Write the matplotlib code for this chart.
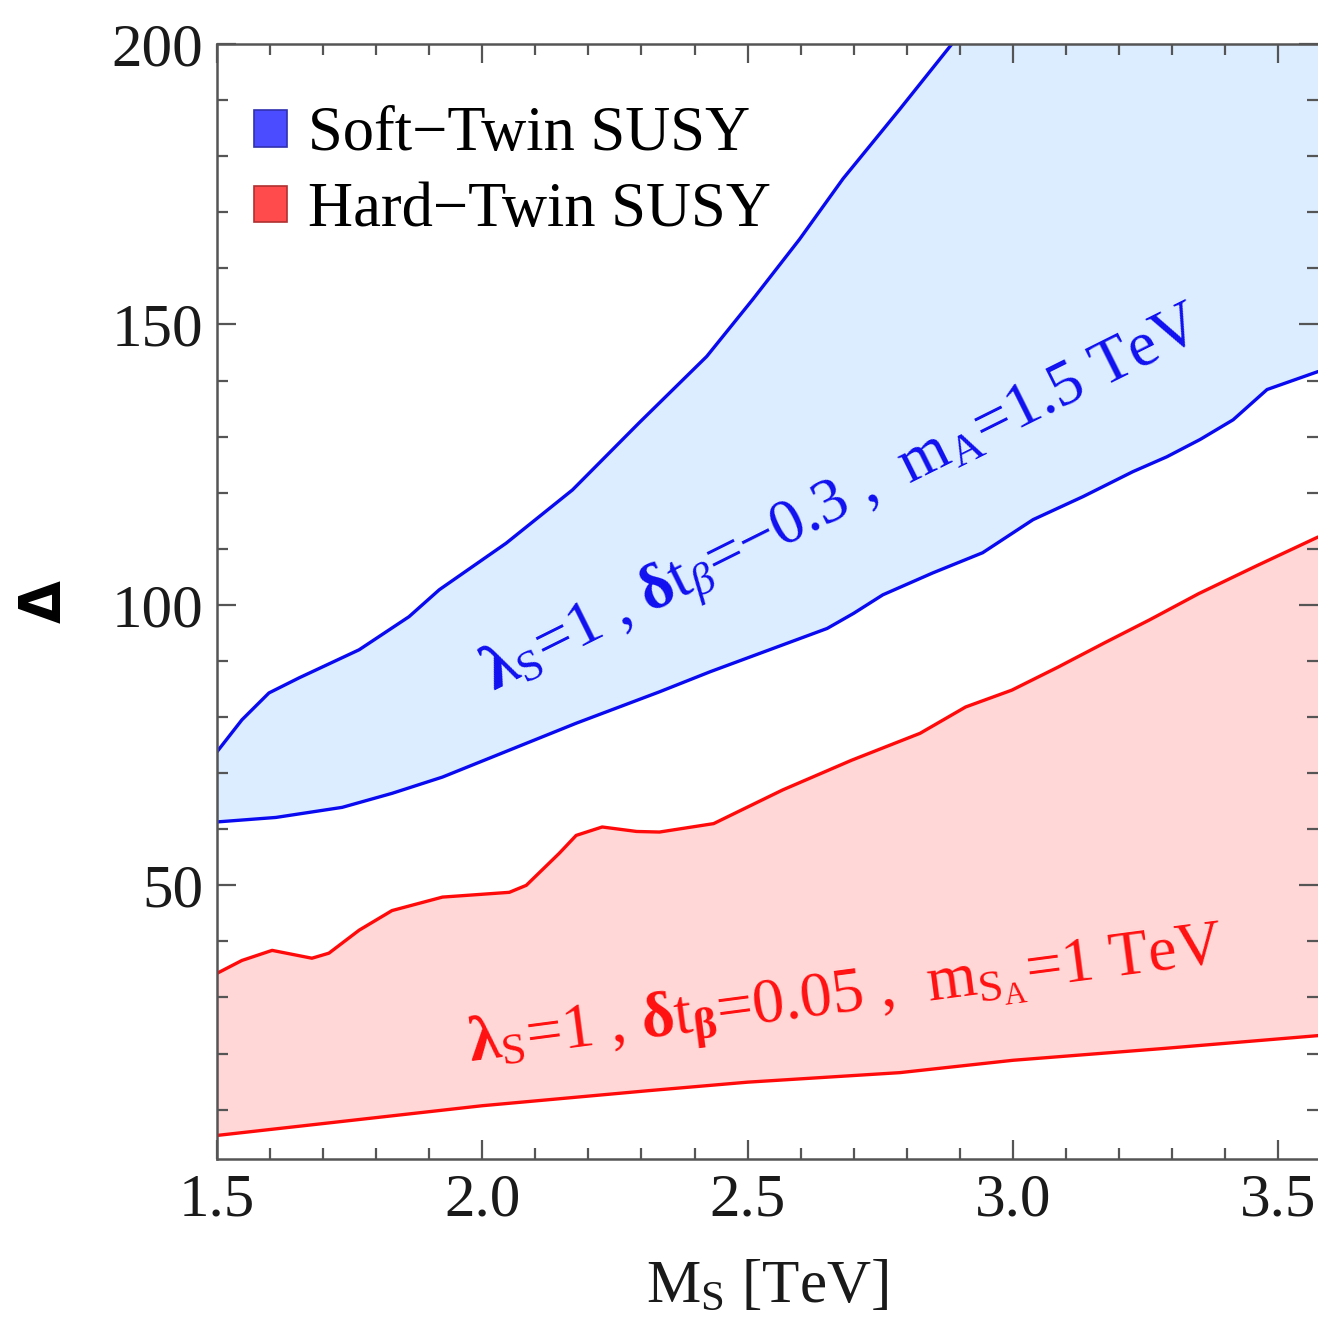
import matplotlib
matplotlib.use("Agg")
import matplotlib.pyplot as plt
from matplotlib.patches import Patch
from matplotlib.ticker import MultipleLocator

plt.rcParams['font.family'] = ['Liberation Serif', 'DejaVu Serif']
plt.rcParams['mathtext.fontset'] = 'custom'
plt.rcParams['mathtext.rm'] = 'Liberation Serif'
plt.rcParams['mathtext.it'] = 'Liberation Serif:italic'
plt.rcParams['mathtext.bf'] = 'Liberation Serif:bold'

# soft-twin band (blue)
soft_up_x = [1.5, 1.547, 1.598, 1.655, 1.768, 1.862, 1.919, 2.045, 2.17, 2.296,
             2.423, 2.51, 2.598, 2.68, 2.787, 2.885]
soft_up_y = [73.8, 79.5, 84.3, 87.0, 92.0, 97.9, 102.7, 111.0, 120.5, 132.5,
             144.3, 154.5, 165.2, 176.0, 188.4, 200.0]
soft_lo_x = [1.5, 1.611, 1.736, 1.83, 1.925, 2.051, 2.177, 2.334, 2.43, 2.65,
             2.70, 2.755, 2.849, 2.943, 3.038, 3.132, 3.226, 3.29, 3.353, 3.415,
             3.479, 3.575]
soft_lo_y = [61.3, 62.1, 63.9, 66.4, 69.3, 74.1, 78.9, 84.5, 88.1, 95.8,
             98.5, 101.8, 105.7, 109.3, 115.2, 119.3, 123.75, 126.4, 129.5, 133.0,
             138.4, 141.6]

# hard-twin band (red)
hard_up_x = [1.5, 1.547, 1.604, 1.679, 1.711, 1.768, 1.83, 1.925, 2.051, 2.083,
             2.145, 2.177, 2.226, 2.291, 2.334, 2.436, 2.566, 2.696, 2.825, 2.911,
             2.998, 3.085, 3.172, 3.257, 3.35, 3.46, 3.575]
hard_up_y = [34.3, 36.6, 38.4, 37.0, 37.9, 42.0, 45.5, 47.9, 48.75, 50.0,
             55.7, 58.9, 60.4, 59.6, 59.5, 61.0, 67.0, 72.3, 77.1, 81.8,
             84.8, 88.9, 93.2, 97.3, 102.0, 107.0, 112.1]
hard_lo_x = [1.5, 2.0, 2.315, 2.5, 2.787, 3.0, 3.283, 3.575]
hard_lo_y = [5.4, 10.7, 13.4, 14.9, 16.6, 18.8, 20.9, 23.2]

xmin, xmax = 1.5, 3.575
ymin, ymax = 1.2, 200

fig = plt.figure(figsize=(13.18, 13.19), dpi=100)
ax = fig.add_axes([0.1646, 0.1213, 1.0 - 0.1646, 0.9666 - 0.1213])

# fills
blue_poly_x = soft_up_x + [xmax] + soft_lo_x[::-1]
blue_poly_y = soft_up_y + [ymax] + soft_lo_y[::-1]
ax.fill(blue_poly_x, blue_poly_y, color='#dbedff', lw=0)
red_poly_x = hard_up_x + hard_lo_x[::-1]
red_poly_y = hard_up_y + hard_lo_y[::-1]
ax.fill(red_poly_x, red_poly_y, color='#ffd7d7', lw=0)

line_kw = dict(lw=2.4, solid_joinstyle='round', solid_capstyle='round')
ax.plot(soft_up_x, soft_up_y, color='#0a0af0', **line_kw)
ax.plot(soft_lo_x, soft_lo_y, color='#0a0af0', **line_kw)
ax.plot(hard_up_x, hard_up_y, color='#ff0a0a', **line_kw)
ax.plot(hard_lo_x, hard_lo_y, color='#ff0a0a', **line_kw)

ax.set_xlim(xmin, xmax)
ax.set_ylim(ymin, ymax)

ax.xaxis.set_minor_locator(MultipleLocator(0.1))
ax.yaxis.set_minor_locator(MultipleLocator(10))
ax.set_xticks([1.5, 2.0, 2.5, 3.0, 3.5])
ax.set_xticklabels(['1.5', '2.0', '2.5', '3.0', '3.5'])
ax.set_yticks([50, 100, 150, 200])

ax.tick_params(which='both', direction='in', top=True, right=True,
               color='#555555', width=1.6, labelsize=44, labelcolor='#1a1a1a')
ax.tick_params(which='major', length=14, pad=10)
ax.tick_params(which='minor', length=8)
for s in ax.spines.values():
    s.set_color('#555555')
    s.set_linewidth(1.8)
ax.spines['right'].set_visible(False)

ax.set_xlabel(r'$\mathrm{M}_\mathrm{S}$ [TeV]', fontsize=44, labelpad=22, color='#1a1a1a')
ax.set_ylabel('Δ', fontsize=40, fontweight='bold', labelpad=28, family='DejaVu Sans')

ax.text(2.02, 84.7,
        r'$\mathbf{λ}_\mathrm{S}$=1 , $\mathbf{δ}$t$_β$=−0.3 ,  m$_\mathrm{A}$=1.5 TeV',
        color='#1010f0', fontsize=46, rotation=26.5, rotation_mode='anchor',
        ha='left', va='baseline')
ax.text(1.977, 18.8,
        r'$\mathbf{λ}_\mathrm{S}$=1 , $\mathbf{δ}$t$_\mathbf{β}$=0.05 ,  m$_{\mathrm{S}_\mathrm{A}}$=1 TeV',
        color='#ff1010', fontsize=46, rotation=7.5, rotation_mode='anchor',
        ha='left', va='baseline')

handles = [Patch(facecolor='#4b4bff', edgecolor='#3030b0', lw=1.2),
           Patch(facecolor='#ff4b4b', edgecolor='#b03030', lw=1.2)]
ax.legend(handles, ['Soft−Twin SUSY', 'Hard−Twin SUSY'], loc='upper left',
          bbox_to_anchor=(0.034, 0.944), frameon=False, fontsize=45,
          handlelength=0.52, handleheight=0.52, handletextpad=0.34,
          labelspacing=0.28, borderpad=0, borderaxespad=0)

fig.savefig('out.png', dpi=100)
